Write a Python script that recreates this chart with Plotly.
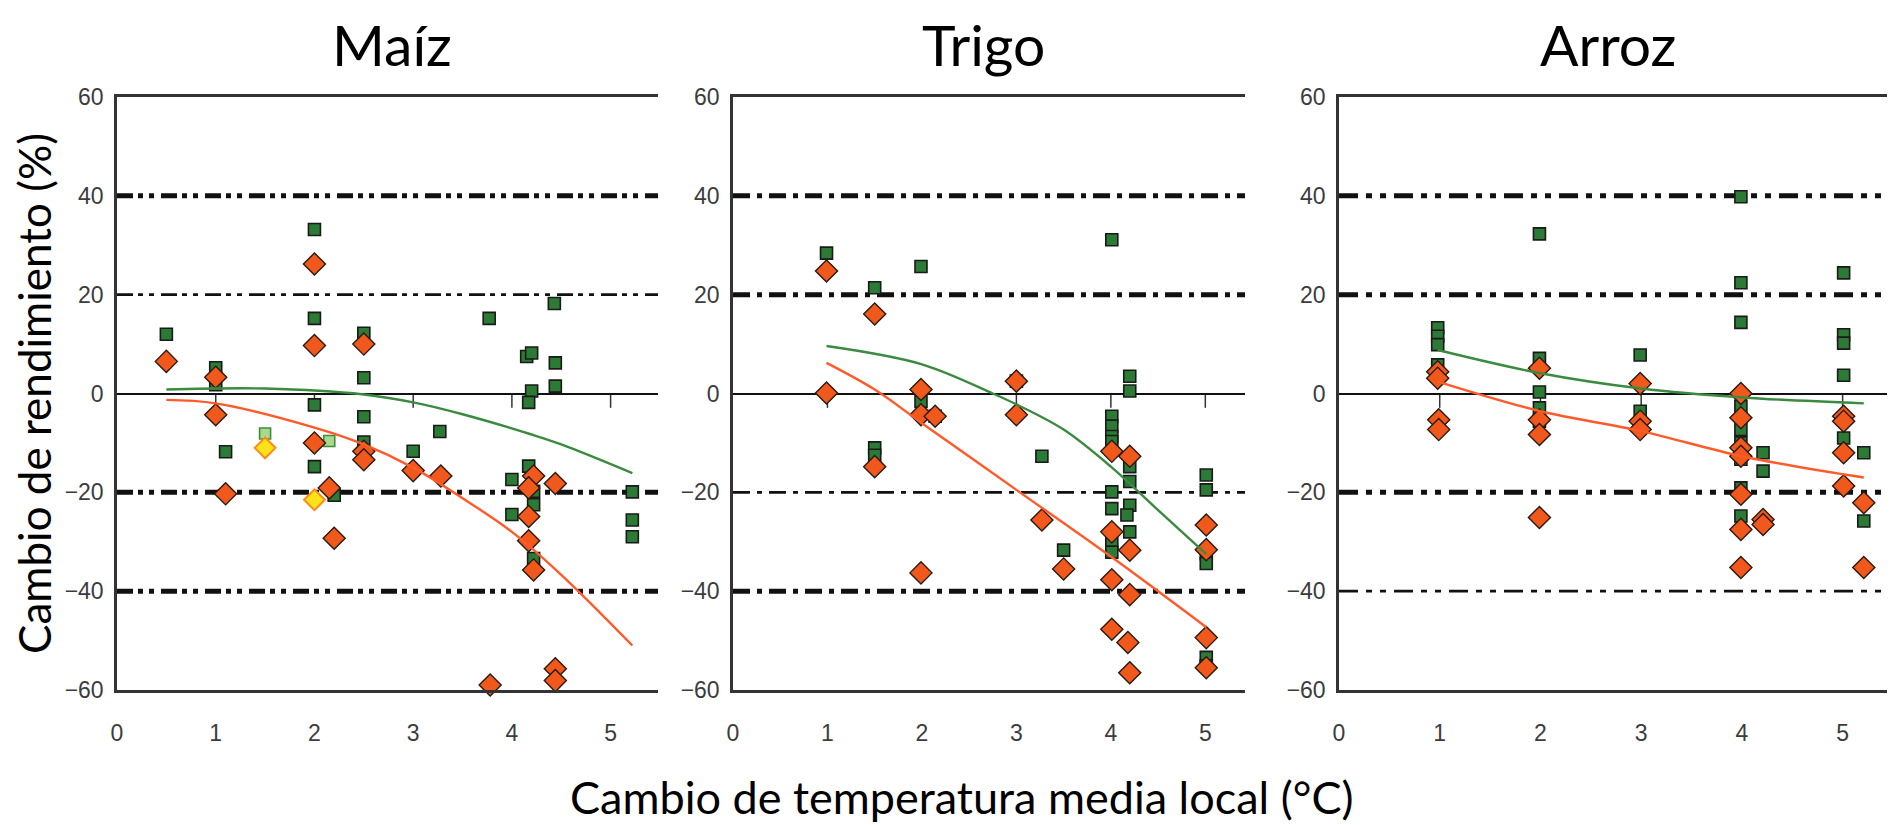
import plotly.graph_objects as go

# ---------------- data ----------------
x_ticks = [0, 1, 2, 3, 4, 5]
y_ticks = [-60, -40, -20, 0, 20, 40, 60]
ref_levels = [40, 20, -20, -40]
panel_titles = ["Maíz", "Trigo", "Arroz"]
y_title = "Cambio de rendimiento (%)"
x_title = "Cambio de temperatura media local (°C)"

# Maíz
maiz_sq_x = [0.5, 1.0, 1.0, 2.0, 2.0, 2.5, 2.5, 3.77, 4.15, 4.2, 4.43, 4.44, 4.44, 4.2, 4.17,
             2.0, 2.5, 1.1, 2.0, 2.5, 3.0, 3.27, 4.17, 4.0, 4.22, 4.22, 4.0, 4.22, 2.2, 5.22, 5.22, 5.22]
maiz_sq_y = [12, 5.2, 1.8, 33.2, 15.2, 12.2, 3.2, 15.2, 7.5, 8.2, 18.2, 6.2, 1.5, 0.5, -1.8,
             -2.3, -4.7, -11.8, -14.8, -9.8, -11.7, -7.7, -14.7, -17.4, -19.8, -22.5, -24.5, -33.4, -20.6, -19.9, -25.6, -29]
maiz_dia_x = [0.5, 1.0, 2.0, 2.0, 2.5, 1.0, 1.1, 2.0, 2.15, 2.2, 2.5, 2.5, 3.0, 3.28, 4.22, 4.17, 4.17,
              4.17, 4.22, 4.44, 3.78, 4.44, 4.44]
maiz_dia_y = [6.5, 3.3, 26.2, 9.7, 10.0, -4.3, -20.3, -10, -19.1, -29.3, -11.7, -13.4, -15.6, -16.7, -16.7, -19.1, -24.9,
              -29.8, -35.7, -18.2, -59, -55.7, -58.1]
maiz_light_sq_x = [1.5, 2.15]
maiz_light_sq_y = [-8.1, -9.6]
maiz_yellow_x = [1.5, 2.0]
maiz_yellow_y = [-11, -21.5]
maiz_gfit_x = [0.5, 1.5, 2.5, 3.0, 3.5, 4.2, 4.5, 5.22]
maiz_gfit_y = [0.8, 1.0, -0.2, -1.8, -4.2, -8.3, -10.3, -16.1]
maiz_ofit_x = [0.5, 1.0, 2.0, 2.5, 3.0, 3.5, 4.0, 4.5, 5.22]
maiz_ofit_y = [-1.3, -2.0, -6.9, -10.3, -15, -21.2, -28, -36.7, -51]

# Trigo
trigo_sq_x = [0.99, 1.5, 1.99, 4.01, 3.0, 4.2, 4.2, 1.99, 2.14, 1.5, 1.5, 3.27, 4.01, 4.01, 4.01, 4.01,
              4.2, 4.2, 4.01, 4.01, 4.2, 4.17, 4.2, 4.01, 4.01, 3.5, 5.01, 5.01, 5.01, 5.01, 5.01, 5.01]
trigo_sq_y = [28.4, 21.4, 25.7, 31.1, 2.5, 3.5, 0.5, -1.6, -4.6, -11, -12.5, -12.7, -4.6, -6.6, -8.7, -9.7,
              -14.8, -17.8, -19.9, -23.3, -22.6, -24.6, -28, -30.4, -32.1, -31.7, -16.5, -19.5, -32.4, -34.4, -53.4, -55.1]
trigo_dia_x = [0.99, 1.5, 0.99, 1.99, 3.0, 1.99, 2.14, 1.5, 1.99, 3.0, 3.27, 3.5, 4.01, 4.01, 4.01, 4.01,
               4.2, 4.2, 4.2, 4.18, 4.2, 5.01, 5.01, 5.01, 5.01]
trigo_dia_y = [24.8, 16.1, 0.1, 0.8, 2.5, -4.3, -4.6, -14.8, -36.3, -4.3, -25.6, -35.5, -11.7, -28, -37.7, -47.7,
               -12.7, -31.7, -40.7, -50.4, -56.5, -26.6, -31.6, -49.4, -55.5]
trigo_gfit_x = [0.99, 2.0, 2.75, 3.0, 3.5, 4.0, 4.5, 5.01]
trigo_gfit_y = [9.6, 5.9, 0, -2.2, -7.3, -14.8, -23.6, -32.5]
trigo_ofit_x = [0.99, 1.5, 2.0, 3.0, 4.0, 5.01]
trigo_ofit_y = [6.2, 0.8, -6, -19.5, -33, -47.3]

# Arroz
arroz_sq_x = [0.98, 0.98, 0.98, 0.98, 1.99, 1.99, 1.99, 2.99, 3.99, 3.99, 3.99, 5.01, 5.01, 5.01, 5.01,
              1.99, 1.99, 2.99, 3.99, 3.99, 3.99, 3.99, 4.21, 4.21, 3.99, 3.99, 5.01, 5.21, 5.21]
arroz_sq_y = [13.3, 11.6, 9.9, 5.8, 32.3, 7.1, 0.3, 7.8, 39.8, 22.4, 14.4, 24.4, 11.9, 10.2, 3.7,
              -2.9, -5.6, -3.6, -2.6, -7.3, -10, -13.3, -12, -15.7, -19.1, -24.8, -9, -12, -25.8]
arroz_dia_x = [0.98, 0.98, 1.99, 2.99, 3.99, 0.99, 0.99, 1.99, 1.99, 1.99, 2.99, 2.99, 3.99, 3.99, 3.99,
               3.99, 3.99, 3.99, 4.21, 4.21, 5.01, 5.01, 5.01, 5.01, 5.21, 5.21]
arroz_dia_y = [4.4, 3.1, 5.1, 2.0, 0, -5.3, -7.3, -5.3, -8.3, -25.1, -5.6, -7.3, -4.9, -11, -12.7,
               -20.4, -27.5, -35.2, -25.5, -26.5, -4.6, -5.6, -12, -18.7, -22.1, -35.2]
arroz_gfit_x = [0.98, 2.0, 3.0, 4.0, 5.21]
arroz_gfit_y = [8.8, 4.1, 1.0, -0.8, -2.0]
arroz_ofit_x = [0.98, 2.0, 3.0, 4.0, 5.21]
arroz_ofit_y = [2.4, -3.6, -7.6, -12.7, -17]

# ---------------- styling ----------------
GREEN = "#2B7A35"
ORANGE = "#F0581C"
EDGE = "#2a1a10"
TXT_FONT = "Lato, 'Open Sans', sans-serif"
TICK_FONT = dict(family="'Liberation Sans Narrow', 'Liberation Sans', Arial, sans-serif", size=23, color="#3c3c3c")

# the page body adds an 8px margin, so the figure is shifted by OFF px
OFF = 8
W, H = 1895 - OFF, 825 - OFF


def fx(px):
    return (px - OFF) / W


def fy(py):
    return 1 - (py - OFF) / H


panels = [
    dict(sq=(maiz_sq_x, maiz_sq_y), dia=(maiz_dia_x, maiz_dia_y),
         gfit=(maiz_gfit_x, maiz_gfit_y), ofit=(maiz_ofit_x, maiz_ofit_y),
         px=(117, 658), xmax=5.48, widths=[5, 2.6, 5, 5], dash="16px,5px,5px,6px,5px,7px"),
    dict(sq=(trigo_sq_x, trigo_sq_y), dia=(trigo_dia_x, trigo_dia_y),
         gfit=(trigo_gfit_x, trigo_gfit_y), ofit=(trigo_ofit_x, trigo_ofit_y),
         px=(733, 1245), xmax=5.42, widths=[5, 5, 2.6, 5], dash="17px,7px,5px,7px"),
    dict(sq=(arroz_sq_x, arroz_sq_y), dia=(arroz_dia_x, arroz_dia_y),
         gfit=(arroz_gfit_x, arroz_gfit_y), ofit=(arroz_ofit_x, arroz_ofit_y),
         px=(1339, 1895), xmax=5.52, widths=[5, 5, 5, 2.6], dash="19px,8px,6px,8px,6px,8px"),
]
y_dom = [fy(690), fy(97)]

fig = go.Figure()
layout = dict(width=W, height=H, margin=dict(l=0, r=0, t=0, b=0, autoexpand=False),
              paper_bgcolor="white", plot_bgcolor="white", showlegend=False)
shapes = []
annotations = []

for i, p in enumerate(panels, start=1):
    xa = "x" if i == 1 else f"x{i}"
    ya = "y" if i == 1 else f"y{i}"
    # squares
    fig.add_trace(go.Scatter(x=p["sq"][0], y=p["sq"][1], mode="markers", xaxis=xa, yaxis=ya,
                             cliponaxis=False,
                             marker=dict(symbol="square", size=12, color=GREEN,
                                         line=dict(color="#1a1a1a", width=1.6))))
    if i == 1:
        fig.add_trace(go.Scatter(x=maiz_light_sq_x, y=maiz_light_sq_y, mode="markers", xaxis=xa, yaxis=ya,
                                 marker=dict(symbol="square", size=11, color="#A9D98E",
                                             line=dict(color="#3E8E3A", width=1.6))))
    # diamonds
    fig.add_trace(go.Scatter(x=p["dia"][0], y=p["dia"][1], mode="markers", xaxis=xa, yaxis=ya,
                             cliponaxis=False,
                             marker=dict(symbol="diamond", size=17, color=ORANGE,
                                         line=dict(color=EDGE, width=1.4))))
    if i == 1:
        fig.add_trace(go.Scatter(x=maiz_yellow_x, y=maiz_yellow_y, mode="markers", xaxis=xa, yaxis=ya,
                                 marker=dict(symbol="diamond", size=16, color="#FFE21A",
                                             line=dict(color="#FF8A1A", width=2))))
    # fitted curves
    fig.add_trace(go.Scatter(x=p["gfit"][0], y=p["gfit"][1], mode="lines", xaxis=xa, yaxis=ya,
                             line=dict(color="#3A8A40", width=2.4, shape="spline")))
    fig.add_trace(go.Scatter(x=p["ofit"][0], y=p["ofit"][1], mode="lines", xaxis=xa, yaxis=ya,
                             line=dict(color="#FF5A2A", width=2.4, shape="spline")))

    x0, x1 = p["px"]
    layout["xaxis" if i == 1 else f"xaxis{i}"] = dict(
        domain=[fx(x0), min(fx(x1), 1.0)], range=[0, p["xmax"]], anchor=ya, automargin=False,
        tickvals=x_ticks, ticks="outside", ticklen=21, tickcolor="rgba(0,0,0,0)", tickfont=TICK_FONT,
        showline=True, mirror=True, linecolor="#333333", linewidth=2.5,
        showgrid=False, zeroline=False, fixedrange=True)
    layout["yaxis" if i == 1 else f"yaxis{i}"] = dict(
        domain=y_dom, range=[-60, 60], anchor=xa, automargin=False,
        tickvals=y_ticks, ticks="", ticklabelstandoff=6, tickfont=TICK_FONT,
        showline=True, mirror=False, linecolor="#333333", linewidth=2.5,
        showgrid=False, zeroline=True, zerolinecolor="#111111", zerolinewidth=2, fixedrange=True)

    # dash-dot reference levels
    for lev, w in zip(ref_levels, p["widths"]):
        shapes.append(dict(type="line", xref=f"{xa} domain", yref=ya, x0=0, x1=1, y0=lev, y1=lev,
                           layer="below", line=dict(color="#111111", width=w, dash=p["dash"])))
    # x tick marks hanging from the zero line
    for t in x_ticks[1:]:
        shapes.append(dict(type="line", xref=xa, yref=ya, x0=t, x1=t, y0=0, y1=-2.9,
                           layer="below", line=dict(color="#333333", width=1.5)))

# titles (box top pinned to the top of the figure so nothing is clipped)
title_x = [392, 983, 1608]
for t, tx in zip(panel_titles, title_x):
    annotations.append(dict(text=t, x=fx(tx), y=1.0, xref="paper", yref="paper",
                            xanchor="center", yanchor="top", showarrow=False,
                            font=dict(family=TXT_FONT, size=57, color="black")))
annotations.append(dict(text=y_title, x=fx(34), y=fy(394), xref="paper", yref="paper",
                        textangle=-90, xanchor="center", yanchor="middle", showarrow=False,
                        font=dict(family=TXT_FONT, size=44, color="black")))
annotations.append(dict(text=x_title, x=fx(962), y=fy(797), xref="paper", yref="paper",
                        xanchor="center", yanchor="middle", showarrow=False,
                        font=dict(family=TXT_FONT, size=45, color="black")))

layout["shapes"] = shapes
layout["annotations"] = annotations
fig.update_layout(**layout)
fig.write_html("out.html")
